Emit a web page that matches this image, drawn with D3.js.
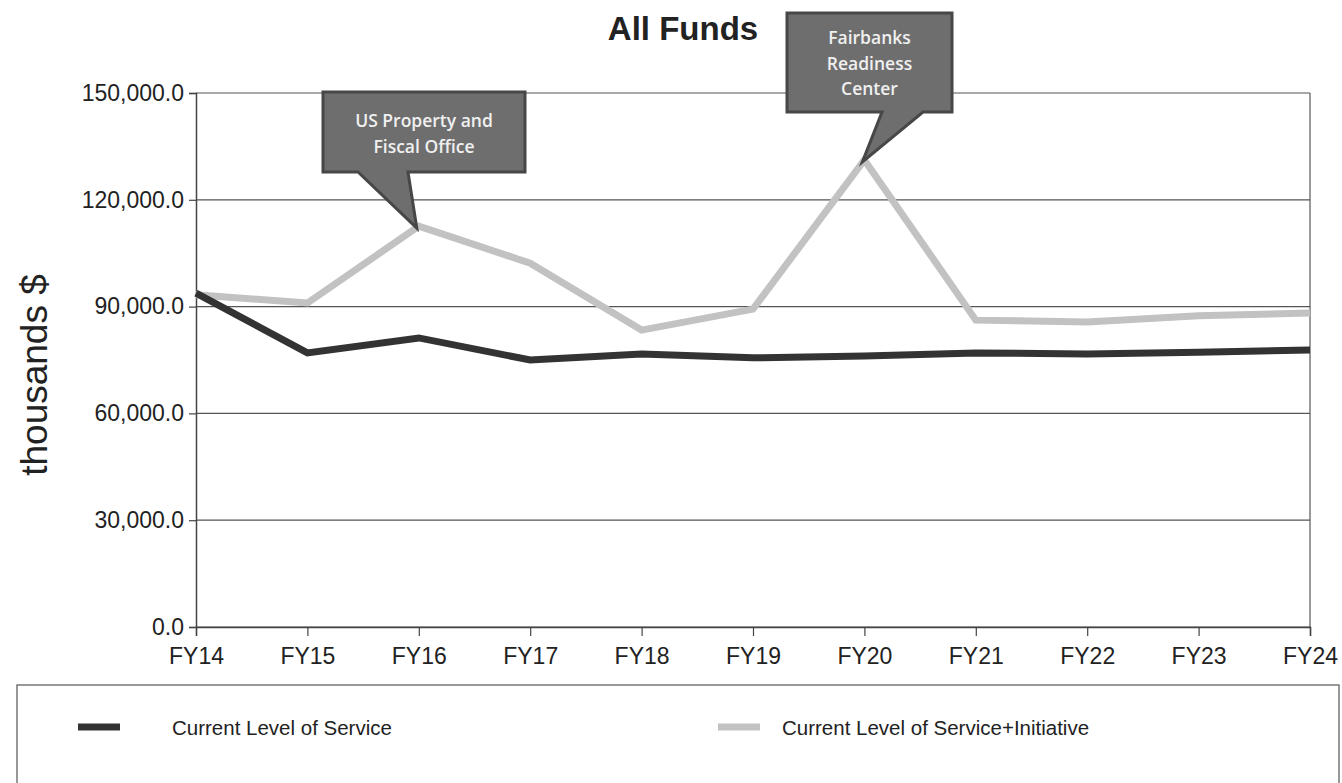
<!DOCTYPE html>
<html>
<head>
<meta charset="utf-8">
<script src="https://cdn.jsdelivr.net/npm/d3@7"></script>
<style>
  body { margin: 0; background: #fff; }
  svg { display: block; }
</style>
</head>
<body>
<svg id="chart" width="1342" height="783"></svg>
<script>
// data (thousands $)
const years = ['FY14', 'FY15', 'FY16', 'FY17', 'FY18', 'FY19', 'FY20', 'FY21', 'FY22', 'FY23', 'FY24'];
const baseService = [93800, 77000, 81200, 75000, 76700, 75600, 76100, 77000, 76700, 77200, 77800];
const withInitiative = [93300, 91000, 112600, 102200, 83400, 89300, 131200, 86200, 85700, 87400, 88200];
const yTicks = [0, 30000, 60000, 90000, 120000, 150000];
const seriesNames = ['Current Level of Service', 'Current Level of Service+Initiative'];
const callouts = [
    { year: 'FY16', series: 1, lines: ['US Property and', 'Fiscal Office'] },
    { year: 'FY20', series: 1, lines: ['Fairbanks', 'Readiness', 'Center'] }
];

const svg = d3.select('#chart');
const plotLeft = 196, plotRight = 1310, plotTop = 93, plotBottom = 627;

const x = d3.scalePoint().domain(years).range([plotLeft, plotRight]);
const y = d3.scaleLinear().domain([0, 150000]).range([plotBottom, plotTop]);

const fmt = d3.format(',.1f');

// title
svg.append('text')
    .attr('x', 683).attr('y', 40)
    .attr('text-anchor', 'middle')
    .style('font-family', 'Arial, Liberation Sans, sans-serif')
    .style('font-weight', 'bold')
    .style('font-size', '33px')
    .style('fill', '#222')
    .text('All Funds');

// y axis title
svg.append('text')
    .attr('transform', 'translate(47,375) rotate(-90)')
    .attr('text-anchor', 'middle')
    .style('font-family', 'Arial, Liberation Sans, sans-serif')
    .style('font-size', '37px')
    .style('fill', '#222')
    .text('thousands $');

// grid lines
svg.append('g')
    .selectAll('line')
    .data(yTicks)
    .enter().append('line')
    .attr('x1', plotLeft).attr('x2', plotRight)
    .attr('y1', d => y(d)).attr('y2', d => y(d))
    .style('stroke', '#555')
    .style('stroke-width', 1.2);

// right border
svg.append('line')
    .attr('x1', plotRight).attr('x2', plotRight)
    .attr('y1', plotTop).attr('y2', plotBottom)
    .style('stroke', '#555')
    .style('stroke-width', 1.2);

// y axis
const yAxis = svg.append('g')
    .attr('transform', `translate(${plotLeft},0)`)
    .call(d3.axisLeft(y).tickValues(yTicks).tickFormat(fmt).tickSize(7).tickPadding(5));
yAxis.select('.domain').style('stroke', '#444').style('stroke-width', 1.5);
yAxis.selectAll('.tick line').style('stroke', '#444').style('stroke-width', 1.2);
yAxis.selectAll('text')
    .style('font-family', 'Arial, Liberation Sans, sans-serif')
    .style('font-size', '23px')
    .style('fill', '#222');

// x axis
const xAxis = svg.append('g')
    .attr('transform', `translate(0,${plotBottom})`)
    .call(d3.axisBottom(x).tickSize(9).tickPadding(12));
xAxis.select('.domain').style('stroke', '#444').style('stroke-width', 1.5);
xAxis.selectAll('.tick line').style('stroke', '#444').style('stroke-width', 1.2);
xAxis.selectAll('text')
    .style('font-family', 'Arial, Liberation Sans, sans-serif')
    .style('font-size', '23px')
    .style('fill', '#222');

// lines
const line = d3.line()
    .x((d, i) => x(years[i]))
    .y(d => y(d));

svg.append('path')
    .attr('d', line(withInitiative))
    .style('fill', 'none')
    .style('stroke', '#c2c2c2')
    .style('stroke-width', 7);

svg.append('path')
    .attr('d', line(baseService))
    .style('fill', 'none')
    .style('stroke', '#333')
    .style('stroke-width', 7);

// callouts
const boxes = [
    { x0: 323, y0: 92, w: 202, h: 80, tail: [358, 408], textY: 127, lh: 26 },
    { x0: 787, y0: 13, w: 165, h: 99, tail: [882, 923], textY: 44, lh: 25.5 }
];
const series = [baseService, withInitiative];

callouts.forEach((c, k) => {
    const b = boxes[k];
    const i = years.indexOf(c.year);
    const tipX = x(c.year) - 2, tipY = y(series[c.series][i]) + 2;
    const yb = b.y0 + b.h;
    const path = d3.path();
    path.moveTo(b.x0, b.y0);
    path.lineTo(b.x0 + b.w, b.y0);
    path.lineTo(b.x0 + b.w, yb);
    path.lineTo(b.tail[1], yb);
    path.lineTo(tipX, tipY);
    path.lineTo(b.tail[0], yb);
    path.lineTo(b.x0, yb);
    path.closePath();
    svg.append('path')
        .attr('d', path.toString())
        .style('fill', '#6e6e6e')
        .style('stroke', '#474747')
        .style('stroke-width', 3)
        .style('stroke-linejoin', 'miter');

    svg.append('g').selectAll('text')
        .data(c.lines)
        .enter().append('text')
        .attr('x', b.x0 + b.w / 2)
        .attr('y', (d, j) => b.textY + j * b.lh)
        .attr('text-anchor', 'middle')
        .style('font-family', 'Open Sans, Noto Sans, sans-serif')
        .style('font-weight', 600)
        .style('font-size', '17.5px')
        .style('fill', '#f0f0f0')
        .text(d => d);
});

// legend
svg.append('rect')
    .attr('x', 17).attr('y', 685)
    .attr('width', 1322).attr('height', 110)
    .style('fill', 'none')
    .style('stroke', '#555')
    .style('stroke-width', 1.2);

const legendItems = [
    { sx: 78, tx: 172, color: '#333' },
    { sx: 718, tx: 782, color: '#c2c2c2' }
];
legendItems.forEach((d, i) => {
    svg.append('line')
        .attr('x1', d.sx).attr('x2', d.sx + 42)
        .attr('y1', 727).attr('y2', 727)
        .style('stroke', d.color)
        .style('stroke-width', 7);
    svg.append('text')
        .attr('x', d.tx).attr('y', 735)
        .style('font-family', 'Arial, Liberation Sans, sans-serif')
        .style('font-size', '20.5px')
        .style('fill', '#222')
        .text(seriesNames[i]);
});
</script>
</body>
</html>
